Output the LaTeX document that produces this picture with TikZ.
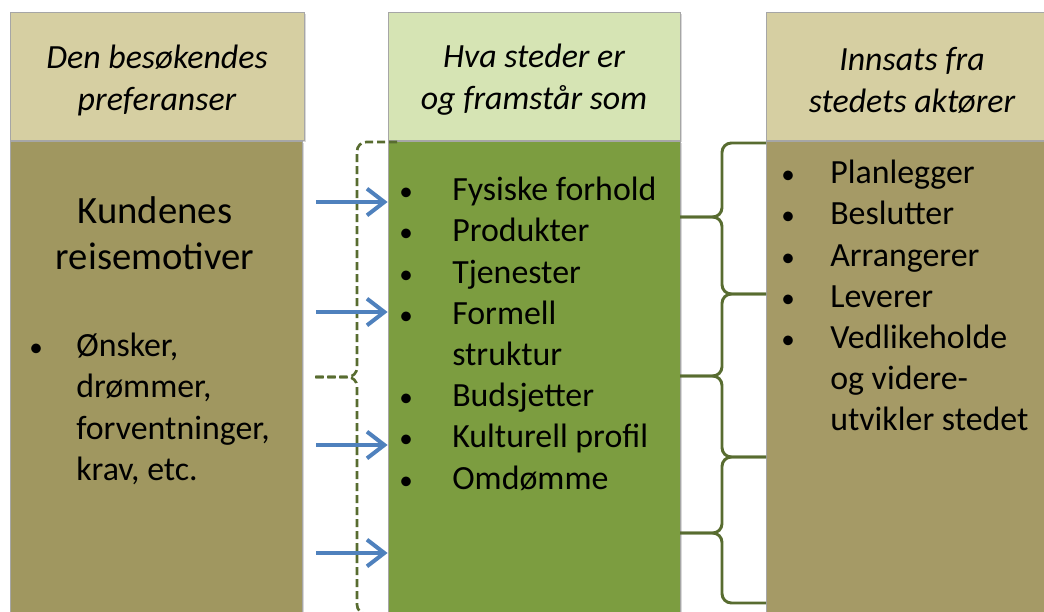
\documentclass[tikz,border=0pt]{standalone}
\usepackage{fontspec}
\setmainfont{Carlito}
\usetikzlibrary{arrows.meta,shadows}
\definecolor{hdrtan}{RGB}{214,207,162}
\definecolor{bodytan}{RGB}{160,151,96}
\definecolor{hdrgreen}{RGB}{214,228,180}
\definecolor{bodygreen}{RGB}{124,157,64}
\definecolor{rtan}{RGB}{165,154,102}
\definecolor{brcgreen}{RGB}{88,108,48}
\definecolor{arrblue}{RGB}{79,129,189}
\newcommand{\bl}[1]{\makebox[#1][l]{\hspace{1.5pt}\scalebox{.8}{\textbullet}}}
\newcommand{\ind}[1]{\hspace*{#1}}
\tikzset{box/.style={rectangle, draw=black!35, line width=.6pt, minimum width=219pt, drop shadow={opacity=.3,shadow xshift=1.2pt,shadow yshift=-1.2pt}},
hdr/.style={box, minimum height=96pt},
hdrtxt/.style={align=center, font=\fontsize{25.4}{31.5}\selectfont\itshape},
bdy/.style={box, minimum height=355pt},
lst/.style={anchor=north west, align=left, inner sep=0pt, font=\fontsize{25.4}{30.9}\selectfont},
brc/.style={draw=brcgreen, line width=2.2pt, rounded corners=7pt},
dbrc/.style={brc, line width=2pt, dash pattern=on 6pt off 3pt},
pnt/.style={draw=arrblue, line width=3pt, -{Straight Barb[length=13pt,width=20pt]}}}
\begin{document}
\begin{tikzpicture}[x=0.75pt,y=-0.75pt]
\useasboundingbox[fill=white] (0,0) rectangle (1044,611);
% columns
\node[hdr, fill=hdrtan, minimum width=220.5pt] (lhdr) at (157,76) {};
\node[bdy, fill=bodytan] (lbdy) at (156.5,378.5) {};
\node[hdr, fill=hdrgreen] (mhdr) at (534,76) {};
\node[bdy, fill=bodygreen] (mbdy) at (534,378.5) {};
\node[hdr, fill=hdrtan] (rhdr) at (912,76) {};
\node[bdy, fill=rtan] (rbdy) at (912,378.5) {};
% header texts
\node[hdrtxt] (ltitle) at (157,80) {Den besøkendes\\preferanser};
\node[hdrtxt] (mtitle) at (534,80) {Hva steder er\\og framstår som};
\node[hdrtxt] (rtitle) at (912,80) {Innsats fra\\stedets aktører};
% body texts
\node[font=\fontsize{29}{34.5}\selectfont, align=center] (motiv) at (155,233) {Kundenes\\reisemotiver};
\node[lst] (llist) at (27,333) {\bl{36.75pt}Ønsker,\\\ind{36.75pt}drømmer,\\\ind{36.75pt}forventninger,\\\ind{36.75pt}krav, etc.};
\node[lst] (mlist) at (397,177) {\bl{41.25pt}Fysiske forhold\\\bl{41.25pt}Produkter\\\bl{41.25pt}Tjenester\\\bl{41.25pt}Formell\\\ind{41.25pt}struktur\\\bl{41.25pt}Budsjetter\\\bl{41.25pt}Kulturell profil\\\bl{41.25pt}Omdømme};
\node[lst] (rlist) at (779,160) {\bl{38.25pt}Planlegger\\\bl{38.25pt}Beslutter\\\bl{38.25pt}Arrangerer\\\bl{38.25pt}Leverer\\\bl{38.25pt}Vedlikeholde\\\ind{38.25pt}og videre-\\\ind{38.25pt}utvikler stedet};
% dashed bracket
\draw[dbrc] (397,142) -| (357,377) -- (315,377);
\draw[dbrc] (315,377) -| (357,614) -- (397,614);
% arrows
\coordinate (a1) at (316,202);
\coordinate (a2) at (316,312);
\coordinate (a3) at (316,445);
\coordinate (a4) at (316,553);
\draw[pnt] (a1) -- (a1 -| mbdy.west);
\draw[pnt] (a2) -- (a2 -| mbdy.west);
\draw[pnt] (a3) -- (a3 -| mbdy.west);
\draw[pnt] (a4) -- (a4 -| mbdy.west);
% braces
\draw[brc] (766,143) -| (722,217) -- (680,217);
\draw[brc] (680,217) -| (722,294) -- (766,294);
\draw[brc] (766,294) -| (722,376) -- (680,376);
\draw[brc] (680,376) -| (722,457) -- (766,457);
\draw[brc] (766,457) -| (722,533) -- (680,533);
\draw[brc] (680,533) -| (722,603) -- (766,603);
\end{tikzpicture}
\end{document}
